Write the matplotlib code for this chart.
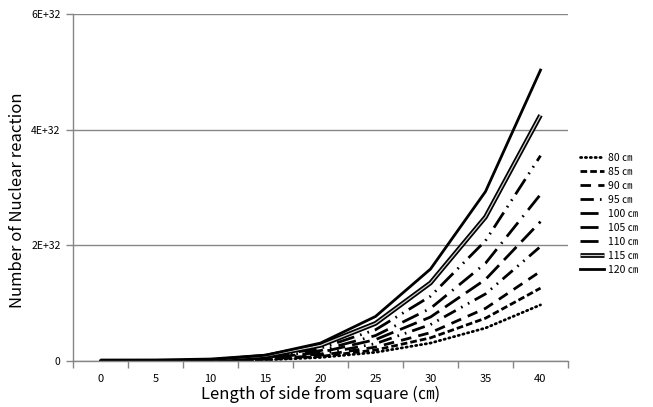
import matplotlib
matplotlib.use("Agg")
import matplotlib.pyplot as plt
import matplotlib.patheffects as pe
import numpy as np

plt.rcParams['font.family'] = ['Noto Sans CJK KR', 'DejaVu Sans']

lengths = ["0", "5", "10", "15", "20", "25", "30", "35", "40"]
series_labels = ["80 ㎝", "85 ㎝", "90 ㎝", "95 ㎝", "100 ㎝", "105 ㎝", "110 ㎝", "115 ㎝", "120 ㎝"]

s80 = [0, 0.000, 0.004, 0.019, 0.061, 0.15, 0.31, 0.57, 0.97]
s85 = [0, 0.000, 0.005, 0.025, 0.079, 0.19, 0.40, 0.74, 1.26]
s90 = [0, 0.000, 0.006, 0.031, 0.097, 0.24, 0.49, 0.91, 1.55]
s95 = [0, 0.000, 0.008, 0.039, 0.12, 0.30, 0.63, 1.16, 1.98]
s100 = [0, 0.001, 0.009, 0.048, 0.15, 0.37, 0.76, 1.41, 2.41]
s105 = [0, 0.001, 0.011, 0.057, 0.18, 0.44, 0.91, 1.69, 2.88]
s110 = [0, 0.001, 0.014, 0.070, 0.22, 0.54, 1.12, 2.08, 3.55]
s115 = [0, 0.001, 0.017, 0.084, 0.27, 0.65, 1.35, 2.49, 4.25]
s120 = [0, 0.001, 0.020, 0.100, 0.31, 0.77, 1.59, 2.93, 5.03]
series = [s80, s85, s90, s95, s100, s105, s110, s115, s120]
scale = 1e32

styles = [
    dict(ls=(0, (0.45, 1.3)), dash_capstyle='round'),
    dict(ls=(0, (2.4, 1.1))),
    dict(ls=(0, (3.8, 2.6))),
    dict(ls=(0, (4.8, 2.2, 0.6, 2.2, 0.6, 2.2))),
    dict(ls=(0, (6.5, 2.6))),
    dict(ls=(0, (6.5, 2.6, 0.6, 2.6))),
    dict(ls=(0, (6.5, 2.2, 0.6, 2.2, 0.6, 2.2))),
    None,
    dict(ls='-'),
]

fig = plt.figure(figsize=(6.53, 4.07), dpi=100)
ax = fig.add_axes([73/653, 1-361/407, (568-73)/653, (361-14)/407])

x = np.arange(len(lengths))
for vals, lab, st in zip(series, series_labels, styles):
    y = np.array(vals) * scale
    if st is None:
        ax.plot(x, y, color='#d0d0d0', lw=0.9, label=lab,
                path_effects=[pe.Stroke(linewidth=3.4, foreground='black'), pe.Normal()],
                solid_capstyle='butt')
    else:
        ax.plot(x, y, color='black', lw=2.0, label=lab, **st)

ax.set_xlim(-0.5, len(lengths) - 0.5)
ax.set_ylim(0, 6e32)
ax.set_yticks([0, 2e32, 4e32, 6e32])
ax.set_yticklabels(["0", "2E+32", "4E+32", "6E+32"], fontsize=7.5)
ax.set_xticks(x)
ax.set_xticklabels(lengths, fontsize=8)
ax.set_xticks(np.arange(-0.5, len(lengths)), minor=True)
ax.tick_params(axis='x', which='major', length=0, pad=9)
ax.tick_params(axis='x', which='minor', length=5, color='#868686', width=1)
ax.tick_params(axis='y', length=5, color='#868686', width=1, pad=4)
ax.yaxis.grid(True, color='#868686', lw=1)
ax.set_axisbelow(True)
for s in ['top', 'right']:
    ax.spines[s].set_visible(False)
for s in ['left', 'bottom']:
    ax.spines[s].set_color('#868686')
    ax.spines[s].set_linewidth(1)

ax.set_ylabel("Number of Nuclear reaction", fontsize=12, va='center')
ax.yaxis.set_label_coords(-0.113, 0.464)
ax.set_xlabel("Length of side from square (㎝)", fontsize=12, labelpad=2)

leg = ax.legend(loc='center left', bbox_to_anchor=(1.025, 0.424), frameon=False,
                fontsize=7.5, handlelength=2.3, handletextpad=0.4, labelspacing=0.38,
                borderaxespad=0, borderpad=0)

fig.savefig("out.png", dpi=100)
